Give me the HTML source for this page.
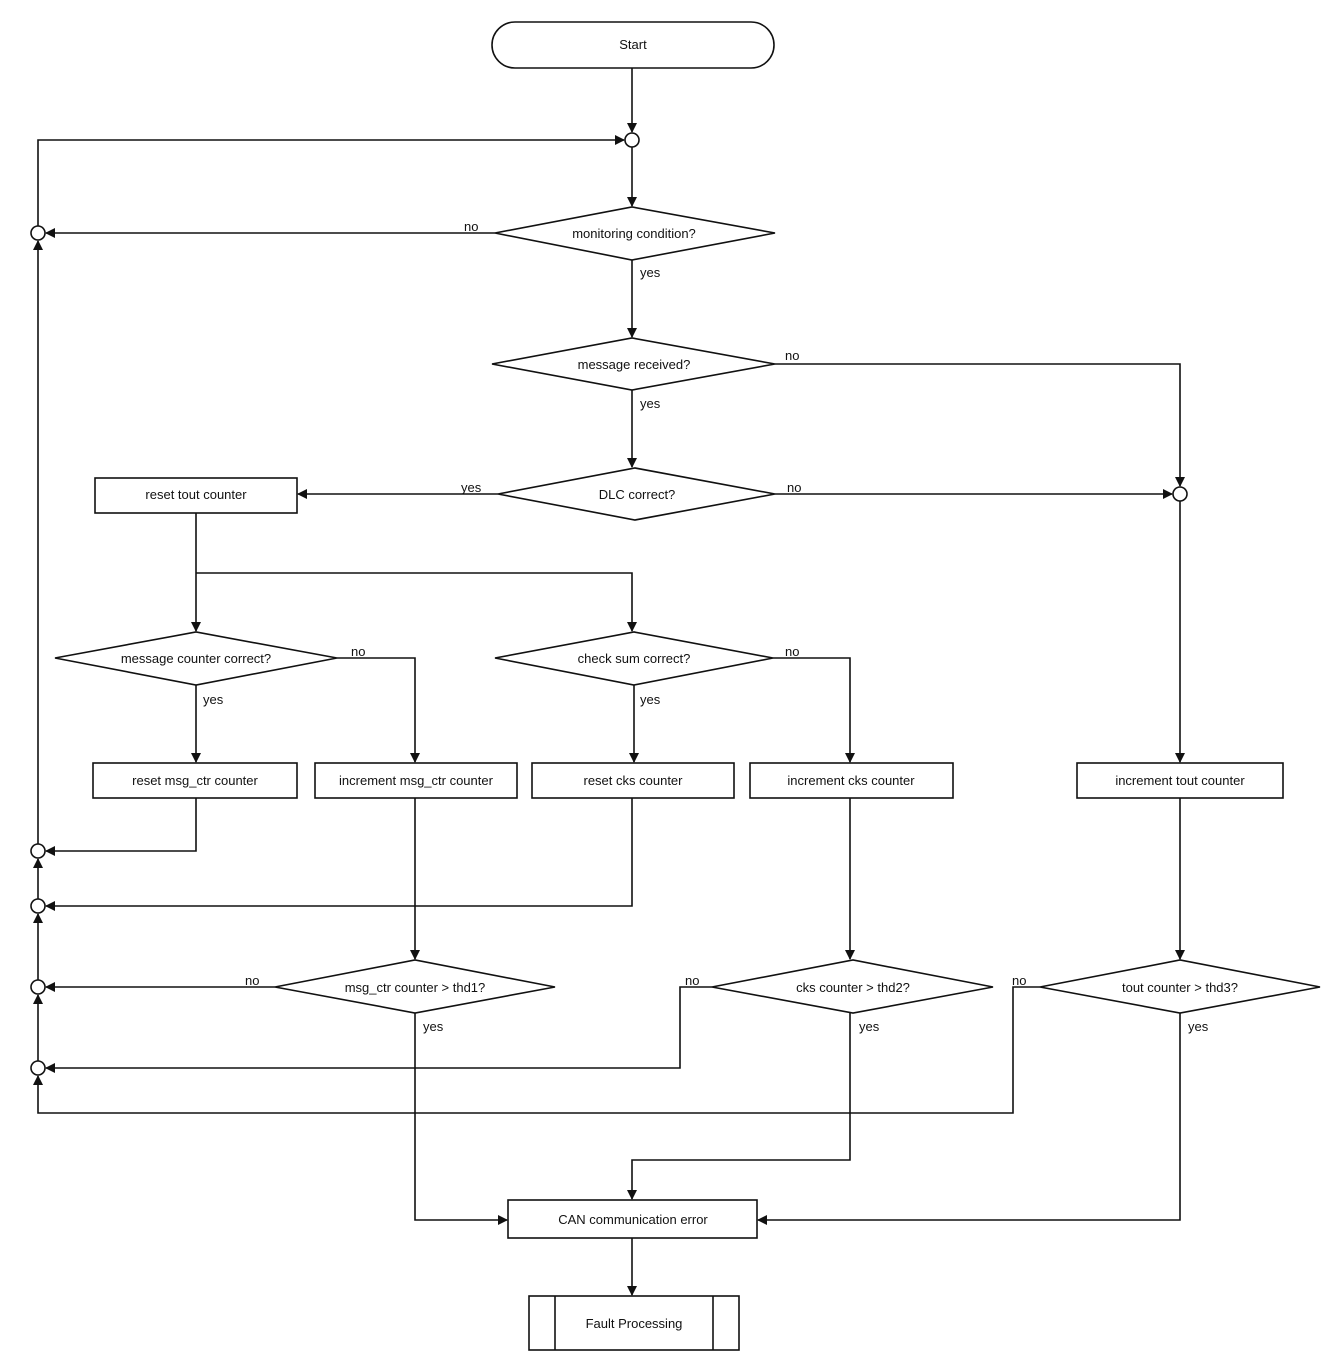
<!DOCTYPE html>
<html><head><meta charset="utf-8"><style>body{margin:0;background:#fff}svg{display:block}text{font-family:"Liberation Sans",sans-serif;font-size:13px;fill:#111}</style></head><body>
<svg width="1344" height="1368" viewBox="0 0 1344 1368" xmlns="http://www.w3.org/2000/svg">
<defs><marker id="a" markerWidth="10" markerHeight="10" refX="9" refY="5" orient="auto" markerUnits="userSpaceOnUse"><path d="M0,0L10,5L0,10z" fill="#111"/></marker></defs>
<g fill="none" stroke="#111" stroke-width="1.6">
<rect x="492" y="22" width="282" height="46" rx="23"/>
<circle cx="632" cy="140" r="7" fill="#fff"/>
<polygon points="495,233 632,207 775,233 632,260" fill="#fff"/>
<polygon points="492,364 632,338 775,364 632,390" fill="#fff"/>
<polygon points="498,494 635,468 775,494 635,520" fill="#fff"/>
<rect x="95" y="478" width="202" height="35"/>
<circle cx="1180" cy="494" r="7"/>
<polygon points="55,658 196,632 337,658 196,685" fill="#fff"/>
<polygon points="495,658 634,632 773,658 634,685" fill="#fff"/>
<rect x="93" y="763" width="204" height="35"/>
<rect x="315" y="763" width="202" height="35"/>
<rect x="532" y="763" width="202" height="35"/>
<rect x="750" y="763" width="203" height="35"/>
<rect x="1077" y="763" width="206" height="35"/>
<polygon points="275,987 415,960 555,987 415,1013"/>
<polygon points="712,987 853,960 993,987 853,1013"/>
<polygon points="1040,987 1180,960 1320,987 1180,1013"/>
<rect x="508" y="1200" width="249" height="38"/>
<rect x="529" y="1296" width="210" height="54"/>
<line x1="555" y1="1296" x2="555" y2="1350"/><line x1="713" y1="1296" x2="713" y2="1350"/>
<circle cx="38" cy="233" r="7"/><circle cx="38" cy="851" r="7"/><circle cx="38" cy="906" r="7"/><circle cx="38" cy="987" r="7"/><circle cx="38" cy="1068" r="7"/>
</g>
<g fill="none" stroke="#111" stroke-width="1.6" marker-end="url(#a)">
<line x1="632" y1="68" x2="632" y2="132"/>
<line x1="632" y1="147" x2="632" y2="206"/>
<path d="M38,226V140H624"/>
<line x1="495" y1="233" x2="46" y2="233"/>
<line x1="632" y1="260" x2="632" y2="337"/>
<path d="M775,364H1180V486"/>
<line x1="632" y1="390" x2="632" y2="467"/>
<line x1="498" y1="494" x2="298" y2="494"/>
<line x1="775" y1="494" x2="1172" y2="494"/>
<path d="M196,513V573V631"/>
<path d="M196,573H632V631"/>
<path d="M337,658H415V762"/>
<line x1="196" y1="685" x2="196" y2="762"/>
<path d="M773,658H850V762"/>
<line x1="634" y1="685" x2="634" y2="762"/>
<line x1="1180" y1="501" x2="1180" y2="762"/>
<path d="M196,798V851H46"/>
<path d="M632,798V906H46"/>
<line x1="415" y1="798" x2="415" y2="959"/>
<line x1="850" y1="798" x2="850" y2="959"/>
<line x1="1180" y1="798" x2="1180" y2="959"/>
<line x1="275" y1="987" x2="46" y2="987"/>
<path d="M712,987H680V1068H46"/>
<path d="M1040,987H1013V1113H38V1076"/>
<line x1="38" y1="1061" x2="38" y2="995"/>
<line x1="38" y1="980" x2="38" y2="914"/>
<line x1="38" y1="899" x2="38" y2="859"/>
<line x1="38" y1="844" x2="38" y2="241"/>
<path d="M415,1013V1220H507"/>
<path d="M850,1013V1160H632V1199"/>
<path d="M1180,1013V1220H758"/>
<line x1="632" y1="1238" x2="632" y2="1295"/>
</g>
<g text-anchor="middle">
<text x="633" y="49">Start</text>
<text x="634" y="238">monitoring condition?</text>
<text x="634" y="369">message received?</text>
<text x="637" y="499">DLC correct?</text>
<text x="196" y="499">reset tout counter</text>
<text x="196" y="663">message counter correct?</text>
<text x="634" y="663">check sum correct?</text>
<text x="195" y="785">reset msg_ctr counter</text>
<text x="416" y="785">increment msg_ctr counter</text>
<text x="633" y="785">reset cks counter</text>
<text x="851" y="785">increment cks counter</text>
<text x="1180" y="785">increment tout counter</text>
<text x="415" y="992">msg_ctr counter &gt; thd1?</text>
<text x="853" y="992">cks counter &gt; thd2?</text>
<text x="1180" y="992">tout counter &gt; thd3?</text>
<text x="633" y="1224">CAN communication error</text>
<text x="634" y="1328">Fault Processing</text>
</g>
<g>
<text x="464" y="231">no</text><text x="640" y="277">yes</text>
<text x="785" y="360">no</text><text x="640" y="408">yes</text>
<text x="461" y="492">yes</text><text x="787" y="492">no</text>
<text x="351" y="656">no</text><text x="203" y="704">yes</text>
<text x="785" y="656">no</text><text x="640" y="704">yes</text>
<text x="245" y="985">no</text><text x="423" y="1031">yes</text>
<text x="685" y="985">no</text><text x="859" y="1031">yes</text>
<text x="1012" y="985">no</text><text x="1188" y="1031">yes</text>
</g>
</svg>
</body></html>
